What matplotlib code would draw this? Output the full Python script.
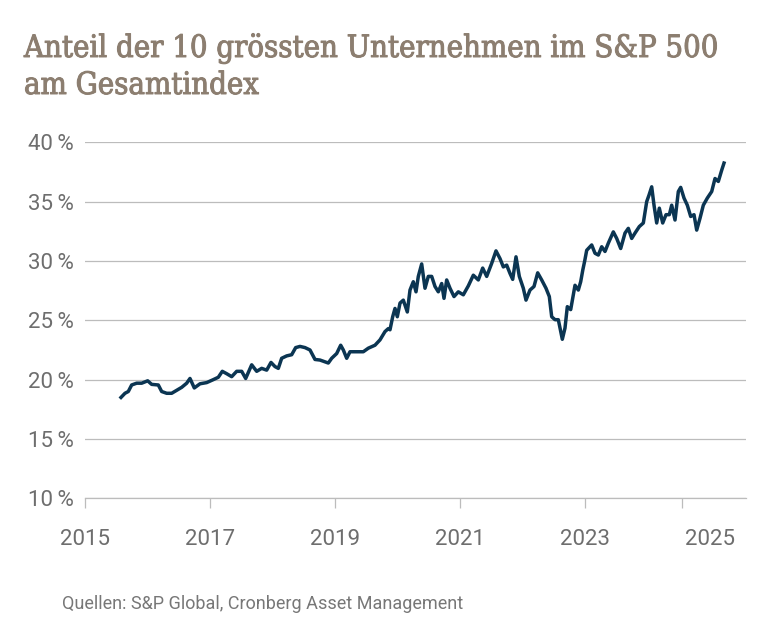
import matplotlib
matplotlib.use("Agg")
import matplotlib.pyplot as plt
from matplotlib import font_manager as fm
from matplotlib import patheffects as pe
from matplotlib.ticker import FixedLocator, FuncFormatter

# ---- data ----
years = [
    2015.571, 2015.635, 2015.688, 2015.742, 2015.822, 2015.902, 2015.998, 2016.062,
    2016.168, 2016.222, 2016.302, 2016.382, 2016.462, 2016.542, 2016.622, 2016.675,
    2016.744, 2016.835, 2016.942, 2017.048, 2017.128, 2017.192, 2017.262, 2017.342,
    2017.422, 2017.502, 2017.566, 2017.662, 2017.742, 2017.822, 2017.902, 2017.971,
    2018.035, 2018.088, 2018.142, 2018.222, 2018.302, 2018.366, 2018.435, 2018.515,
    2018.595, 2018.675, 2018.755, 2018.888, 2018.942, 2019.022, 2019.086, 2019.128,
    2019.182, 2019.235, 2019.342, 2019.448, 2019.528, 2019.635, 2019.715, 2019.795,
    2019.848, 2019.875, 2019.918, 2019.955, 2019.992, 2020.035, 2020.088, 2020.152,
    2020.195, 2020.248, 2020.291, 2020.328, 2020.382, 2020.435, 2020.488, 2020.542,
    2020.595, 2020.648, 2020.702, 2020.739, 2020.782, 2020.835, 2020.899, 2020.968,
    2021.048, 2021.128, 2021.208, 2021.288, 2021.358, 2021.422, 2021.502, 2021.571,
    2021.635, 2021.688, 2021.742, 2021.795, 2021.838, 2021.891, 2021.944, 2022.008,
    2022.051, 2022.115, 2022.179, 2022.238, 2022.302, 2022.371, 2022.424, 2022.462,
    2022.515, 2022.568, 2022.595, 2022.632, 2022.675, 2022.712, 2022.766, 2022.835,
    2022.888, 2022.926, 2022.960, 2022.990, 2023.022, 2023.075, 2023.102, 2023.155,
    2023.208, 2023.262, 2023.315, 2023.368, 2023.448, 2023.502, 2023.566, 2023.635,
    2023.688, 2023.742, 2023.795, 2023.864, 2023.928, 2023.982, 2024.019, 2024.062,
    2024.099, 2024.142, 2024.184, 2024.238, 2024.291, 2024.344, 2024.382, 2024.435,
    2024.488, 2024.526, 2024.579, 2024.632, 2024.686, 2024.739, 2024.782, 2024.835,
    2024.888, 2024.952, 2025.022, 2025.075, 2025.128, 2025.182, 2025.219,
]
share = [
    18.5, 18.85, 19.0, 19.55, 19.7, 19.7, 19.9, 19.6,
    19.55, 19.0, 18.85, 18.85, 19.1, 19.35, 19.7, 20.1,
    19.3, 19.65, 19.75, 20.0, 20.2, 20.7, 20.5, 20.25,
    20.7, 20.7, 20.1, 21.25, 20.7, 20.95, 20.8, 21.45,
    21.1, 20.95, 21.8, 22.0, 22.1, 22.7, 22.8, 22.7,
    22.5, 21.7, 21.65, 21.4, 21.8, 22.2, 22.9, 22.5,
    21.8, 22.35, 22.35, 22.35, 22.65, 22.9, 23.35, 24.05,
    24.3, 24.2, 25.3, 26.0, 25.3, 26.45, 26.7, 25.7,
    27.55, 28.25, 27.4, 28.7, 29.75, 27.7, 28.7, 28.7,
    27.85, 27.4, 28.1, 26.85, 28.4, 27.7, 27.0, 27.4,
    27.15, 27.9, 28.8, 28.4, 29.4, 28.7, 29.8, 30.85,
    30.2, 29.5, 29.65, 28.95, 28.45, 30.35, 28.7, 27.7,
    26.7, 27.55, 27.85, 29.0, 28.4, 27.7, 27.0, 25.3,
    25.05, 25.05, 24.35, 23.4, 24.35, 26.15, 25.9, 27.95,
    27.55, 28.25, 29.25, 30.0, 30.9, 31.2, 31.35, 30.65,
    30.5, 31.2, 30.8, 31.5, 32.45, 31.9, 31.05, 32.35,
    32.75, 31.9, 32.35, 32.9, 33.2, 35.0, 35.55, 36.25,
    34.7, 33.2, 34.45, 33.2, 33.9, 33.9, 34.7, 33.45,
    35.85, 36.2, 35.3, 34.7, 33.75, 33.9, 32.6, 33.6,
    34.7, 35.3, 35.85, 36.95, 36.7, 37.65, 38.25,
]
y_ticks = [10, 15, 20, 25, 30, 35, 40]
x_label_years = [2015, 2017, 2019, 2021, 2023, 2025]
x_mark_positions = [2015, 2017, 2019, 2021, 2023, 2024.55]

title_line1 = "Anteil der 10 grössten Unternehmen im S&P 500"
title_line2 = "am Gesamtindex"
source = "Quellen: S&P Global, Cronberg Asset Management"

title_c = "#8c7e70"

# ---- title font: condensed serif if available ----
title_kw = dict(family=["Liberation Serif", "DejaVu Serif"], fontsize=25.8)
try:
    fp = fm.FontProperties(family="DejaVu Serif", stretch="condensed")
    path = fm.findfont(fp, fallback_to_default=False)
    if "Condensed" in path:
        title_kw = dict(fontproperties=fm.FontProperties(fname=path, size=22.2))
except Exception:
    pass
title_kw["path_effects"] = [pe.withStroke(linewidth=0.7, foreground=title_c)]

# ---- styling ----
W, H = 771, 625
fig = plt.figure(figsize=(W / 100, H / 100), dpi=100)
ax = fig.add_axes([85.3 / W, 1 - 498.3 / H, (745.7 - 85.3) / W, (498.3 - 142.3) / H])

grid_c = "#bcbcbc"
lab_c = "#6e6e6e"
line_c = "#0b3552"

ax.plot(years, share, color=line_c, lw=2.5, solid_joinstyle="round", clip_on=False, zorder=3)

ax.set_xlim(2015, 2025.566)
ax.set_ylim(10, 40)

for s in ["top", "right", "left"]:
    ax.spines[s].set_visible(False)
ax.spines["bottom"].set_color(grid_c)
ax.spines["bottom"].set_linewidth(0.9)

ax.yaxis.set_major_locator(FixedLocator(y_ticks))
ax.yaxis.set_major_formatter(FuncFormatter(lambda v, p: f"{int(v)}\u2009%"))
ax.grid(axis="y", color=grid_c, lw=0.9)
ax.set_axisbelow(True)
ax.tick_params(axis="y", length=0, pad=8, labelsize=16, labelcolor=lab_c)

ax.xaxis.remove_overlapping_locs = False
ax.xaxis.set_major_locator(FixedLocator(x_label_years))
ax.xaxis.set_major_formatter(FuncFormatter(lambda v, p: f"{int(v)}"))
ax.xaxis.set_minor_locator(FixedLocator(x_mark_positions))
ax.tick_params(axis="x", which="major", length=0, pad=22, labelsize=16, labelcolor=lab_c)
ax.tick_params(axis="x", which="minor", length=7, width=0.9, color=grid_c, direction="out")

for lab in ax.get_xticklabels() + ax.get_yticklabels():
    lab.set_family(["Roboto", "DejaVu Sans"])

fig.text(24 / W, 1 - 57 / H, title_line1, color=title_c, va="baseline", ha="left", **title_kw)
fig.text(24 / W, 1 - 94 / H, title_line2, color=title_c, va="baseline", ha="left", **title_kw)

fig.text(62 / W, 1 - 609 / H, source, family=["Roboto", "DejaVu Sans"],
         fontsize=13, color="#777777", va="baseline", ha="left")

fig.savefig("out.png", dpi=100)
